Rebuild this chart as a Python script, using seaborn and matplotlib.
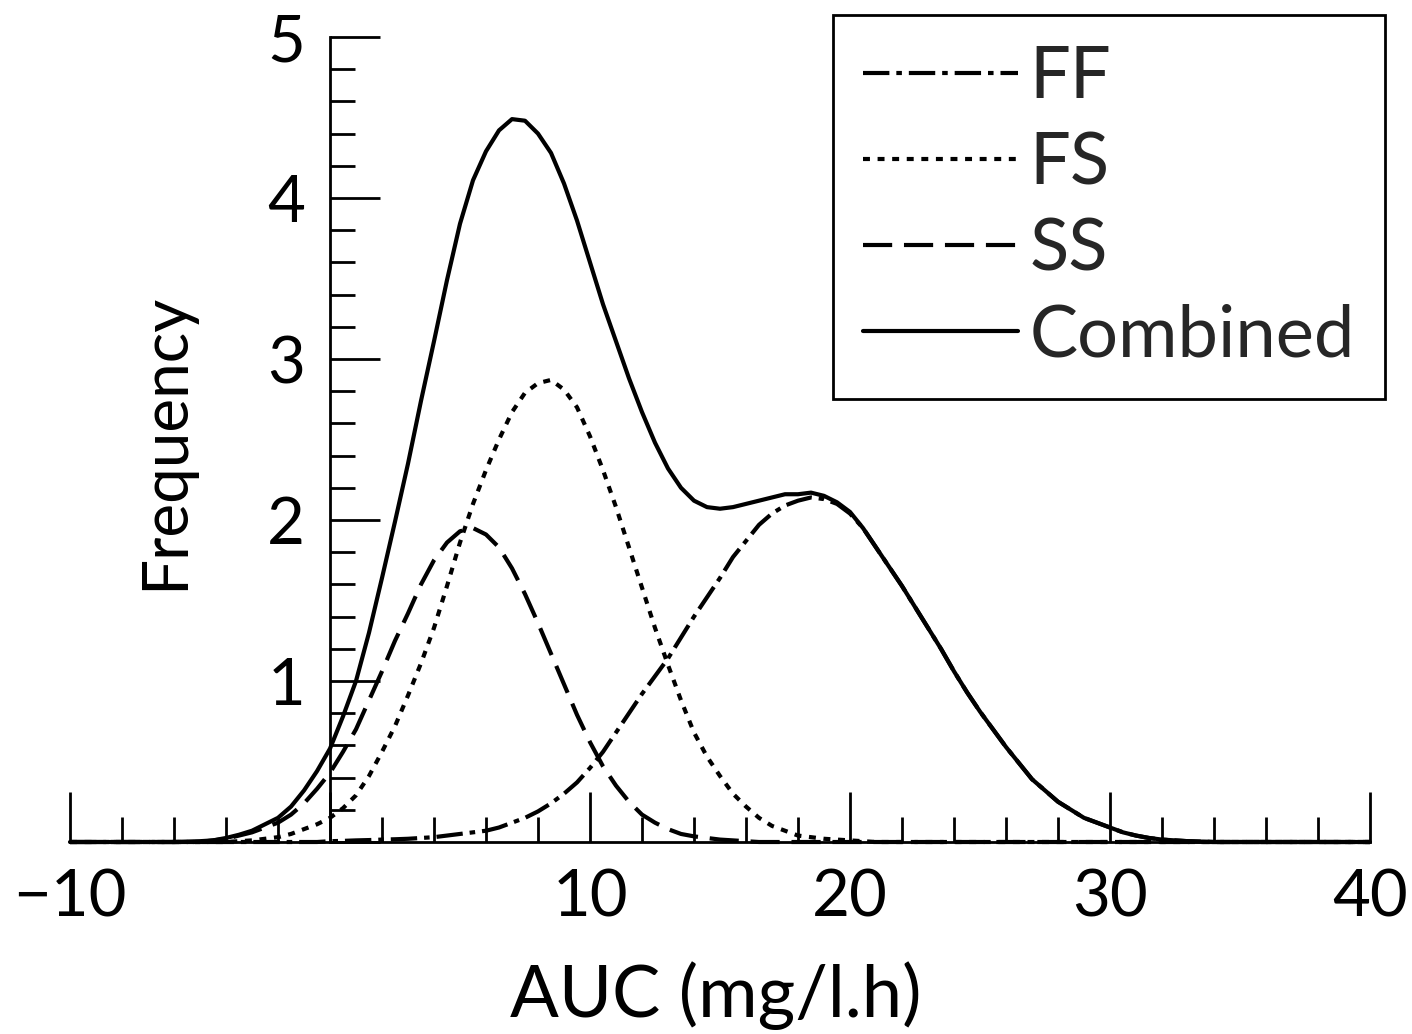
import matplotlib
matplotlib.use("Agg")
import matplotlib.pyplot as plt
import seaborn as sns
from matplotlib.ticker import FixedLocator, MultipleLocator

auc = [-10, -9, -8, -7, -6,
       -5, -4.5, -4, -3.5, -3, -2.5, -2, -1.5, -1, -0.5,
       0, 0.5, 1, 1.5, 2, 2.5, 3, 3.5, 4, 4.5,
       5, 5.5, 6, 6.5, 7, 7.5, 8, 8.5, 9, 9.5,
       10, 10.5, 11, 11.5, 12, 12.5, 13, 13.5, 14, 14.5,
       15, 15.5, 16, 16.5, 17, 17.5, 18, 18.5, 19, 19.5,
       20, 20.5, 21, 21.5, 22, 22.5, 23, 23.5, 24, 24.5,
       25, 25.5, 26, 26.5, 27, 27.5, 28, 28.5, 29, 29.5,
       30, 30.5, 31, 31.5, 32, 32.5, 33,
       34, 35, 36, 37, 38, 39, 40]

ff = [0, 0, 0, 0, 0,
      0, 0, 0, 0, 0, 0, 0, 0, 0, 0,
      0.005, 0.007, 0.01, 0.012, 0.015, 0.017, 0.02, 0.025, 0.03, 0.04,
      0.05, 0.06, 0.07, 0.09, 0.12, 0.15, 0.19, 0.24, 0.30, 0.37,
      0.46, 0.56, 0.68, 0.80, 0.92, 1.03, 1.14, 1.27, 1.40, 1.52,
      1.64, 1.77, 1.87, 1.97, 2.04, 2.09, 2.12, 2.14, 2.13, 2.10,
      2.04, 1.95, 1.83, 1.71, 1.59, 1.46, 1.33, 1.20, 1.06, 0.93,
      0.81, 0.70, 0.59, 0.49, 0.39, 0.32, 0.25, 0.20, 0.15, 0.12,
      0.09, 0.06, 0.04, 0.025, 0.015, 0.01, 0.005,
      0, 0, 0, 0, 0, 0, 0]

fs = [0, 0, 0, 0, 0,
      0, 0, 0, 0.005, 0.01, 0.02, 0.03, 0.05, 0.08, 0.11,
      0.15, 0.21, 0.29, 0.41, 0.56, 0.72, 0.91, 1.11, 1.33, 1.59,
      1.86, 2.10, 2.31, 2.50, 2.67, 2.79, 2.85, 2.87, 2.81, 2.70,
      2.52, 2.31, 2.08, 1.83, 1.58, 1.33, 1.10, 0.88, 0.68, 0.53,
      0.41, 0.30, 0.22, 0.15, 0.10, 0.07, 0.04, 0.03, 0.02, 0.015,
      0.01, 0.005, 0, 0, 0, 0, 0, 0, 0, 0,
      0, 0, 0, 0, 0, 0, 0, 0, 0, 0,
      0, 0, 0, 0, 0, 0, 0,
      0, 0, 0, 0, 0, 0, 0]

ss = [0, 0, 0, 0, 0,
      0, 0.01, 0.02, 0.04, 0.06, 0.09, 0.12, 0.17, 0.24, 0.33,
      0.43, 0.56, 0.70, 0.88, 1.06, 1.25, 1.42, 1.60, 1.75, 1.86,
      1.93, 1.95, 1.91, 1.83, 1.70, 1.54, 1.36, 1.17, 0.98, 0.79,
      0.62, 0.47, 0.35, 0.25, 0.17, 0.12, 0.08, 0.05, 0.035, 0.025,
      0.015, 0.01, 0.005, 0, 0, 0, 0, 0, 0, 0,
      0, 0, 0, 0, 0, 0, 0, 0, 0, 0,
      0, 0, 0, 0, 0, 0, 0, 0, 0, 0,
      0, 0, 0, 0, 0, 0, 0,
      0, 0, 0, 0, 0, 0, 0]

combined = [0, 0, 0, 0, 0,
            0.005, 0.01, 0.025, 0.045, 0.07, 0.11, 0.15, 0.22, 0.32, 0.44,
            0.58, 0.78, 1.00, 1.30, 1.64, 1.99, 2.35, 2.74, 3.11, 3.49,
            3.84, 4.11, 4.29, 4.42, 4.49, 4.48, 4.40, 4.28, 4.09, 3.86,
            3.60, 3.34, 3.11, 2.88, 2.67, 2.48, 2.32, 2.20, 2.12, 2.08,
            2.07, 2.08, 2.10, 2.12, 2.14, 2.16, 2.16, 2.17, 2.15, 2.11,
            2.05, 1.95, 1.83, 1.71, 1.59, 1.46, 1.33, 1.20, 1.06, 0.93,
            0.81, 0.70, 0.59, 0.49, 0.39, 0.32, 0.25, 0.20, 0.15, 0.12,
            0.09, 0.06, 0.04, 0.025, 0.015, 0.01, 0.005,
            0, 0, 0, 0, 0, 0, 0]

x_ticks = [-10, 0, 10, 20, 30, 40]
x_tick_labels = ["\u221210", "", "10", "20", "30", "40"]
y_ticks = [0, 1, 2, 3, 4, 5]
y_tick_labels = ["", "1", "2", "3", "4", "5"]

sns.set_style("ticks")
plt.rcParams['font.family'] = ['Lato', 'DejaVu Sans']
plt.rcParams['lines.scale_dashes'] = False

fig = plt.figure(figsize=(14.12, 10.34), dpi=100)
ax = fig.add_axes([70 / 1412, 192 / 1034, 1300 / 1412, 805 / 1034])

lw = 3.0
sns.lineplot(x=auc, y=ff, ax=ax, color='black', lw=lw,
             linestyle=(0, (19, 5, 4, 5)), label='FF', clip_on=False)
sns.lineplot(x=auc, y=fs, ax=ax, color='black', lw=lw,
             linestyle=(0, (5, 5.5)), label='FS', clip_on=False)
sns.lineplot(x=auc, y=ss, ax=ax, color='black', lw=lw,
             linestyle=(0, (21, 8.5)), label='SS', clip_on=False)
sns.lineplot(x=auc, y=combined, ax=ax, color='black', lw=lw,
             linestyle='-', label='Combined', clip_on=False)

ax.set_xlim(-10, 40)
ax.set_ylim(0, 5)

# axes cross at the origin
ax.spines['left'].set_position(('data', 0))
ax.spines[['top', 'right']].set_visible(False)
for side in ['left', 'bottom']:
    ax.spines[side].set_linewidth(2)
    ax.spines[side].set_color('black')

ax.xaxis.set_major_locator(FixedLocator(x_ticks))
ax.set_xticklabels(x_tick_labels)
ax.xaxis.set_minor_locator(MultipleLocator(2))
ax.yaxis.set_major_locator(FixedLocator(y_ticks))
ax.set_yticklabels(y_tick_labels)
ax.yaxis.set_minor_locator(MultipleLocator(0.2))

ax.tick_params(which='major', direction='in', length=36, width=2,
               color='black', labelsize=47, labelcolor='black')
ax.tick_params(which='minor', direction='in', length=18, width=2, color='black')
ax.tick_params(axis='x', which='major', pad=19)
ax.tick_params(axis='y', which='major', pad=18)

ax.set_xlabel('AUC (mg/l.h)', fontsize=52, color='black')
ax.xaxis.label.set_va('baseline')
ax.xaxis.set_label_coords(0.497, -0.217)

ax.set_ylabel('Frequency', fontsize=46, color='black')
ax.yaxis.label.set_va('baseline')
ax.yaxis.set_label_coords(0.087, 0.497)

leg = ax.legend(loc='upper right', bbox_to_anchor=(1385 / 1412, 1 - 15 / 1034),
                bbox_transform=fig.transFigure, borderaxespad=0,
                frameon=True, fancybox=False, shadow=False, framealpha=1,
                edgecolor='black', fontsize=52, handlelength=2.15,
                handletextpad=0.15, labelspacing=0.29, borderpad=0.42)
leg.get_frame().set_linewidth(2)

fig.savefig('out.png', dpi=100, facecolor='white')
